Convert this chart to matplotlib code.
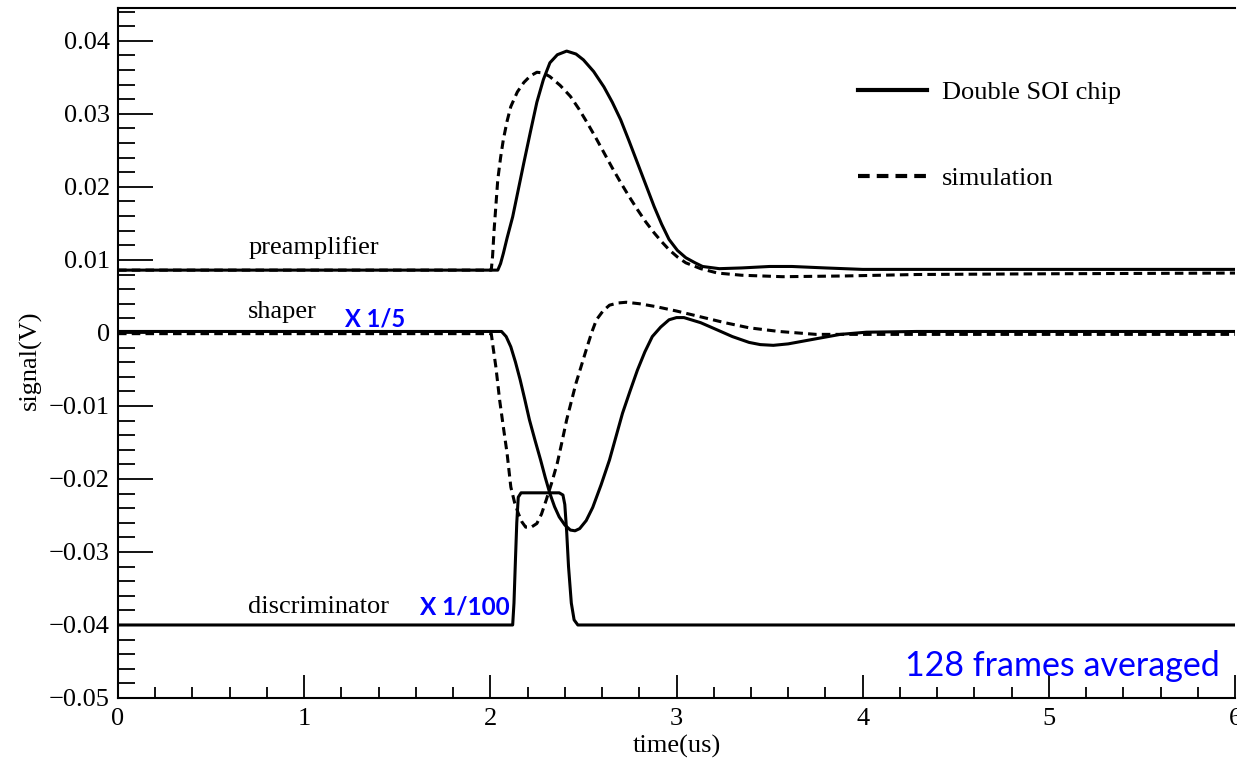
import matplotlib
matplotlib.use("Agg")
import matplotlib.pyplot as plt
from matplotlib.ticker import FixedLocator, MultipleLocator

# ---------------- waveform data (time in us, signal in V) ----------------
pre_chip_t = [0.0, 2.04, 2.055, 2.07, 2.09, 2.12, 2.15, 2.18, 2.215, 2.25, 2.285, 2.32,
              2.36, 2.41, 2.46, 2.50, 2.555, 2.61, 2.655, 2.70, 2.745, 2.79, 2.835,
              2.88, 2.92, 2.96, 3.005, 3.05, 3.10, 3.14, 3.23, 3.35, 3.50, 3.62, 3.80,
              4.00, 6.0]
pre_chip_v = [0.0086, 0.0086, 0.0095, 0.0109, 0.0130, 0.0159, 0.0196, 0.0233, 0.0275,
              0.0316, 0.0347, 0.0370, 0.0381, 0.0386, 0.0382, 0.0374, 0.0358, 0.0337,
              0.0316, 0.0292, 0.0263, 0.0233, 0.0203, 0.0173, 0.0149, 0.0128, 0.0113,
              0.0103, 0.0096, 0.0091, 0.0088, 0.0089, 0.0091, 0.0091, 0.0089, 0.0087,
              0.0087]

pre_sim_t = [0.0, 2.005, 2.012, 2.02, 2.03, 2.04, 2.055, 2.07, 2.09, 2.11, 2.145, 2.18,
             2.215, 2.25, 2.285, 2.32, 2.375, 2.43, 2.475, 2.52, 2.565, 2.61, 2.655,
             2.70, 2.745, 2.79, 2.835, 2.88, 2.92, 2.96, 3.005, 3.05, 3.13, 3.22, 3.35,
             3.57, 3.90, 4.29, 5.0, 6.0]
pre_sim_v = [0.0086, 0.0086, 0.0105, 0.0140, 0.0175, 0.0210, 0.0240, 0.0265, 0.0290,
             0.0310, 0.0330, 0.0343, 0.0352, 0.0357, 0.0356, 0.0351, 0.0339, 0.0324,
             0.0307, 0.0288, 0.0268, 0.0247, 0.0226, 0.0206, 0.0187, 0.0169, 0.0152,
             0.0137, 0.0125, 0.0114, 0.0104, 0.0096, 0.0088, 0.0082, 0.0079, 0.0077,
             0.0078, 0.0080, 0.0081, 0.0082]

shp_chip_t = [0.0, 2.06, 2.085, 2.11, 2.135, 2.16, 2.185, 2.21, 2.24, 2.27, 2.295, 2.32,
              2.345, 2.37, 2.40, 2.43, 2.455, 2.48, 2.515, 2.55, 2.595, 2.64, 2.675,
              2.71, 2.75, 2.79, 2.83, 2.87, 2.915, 2.96, 3.00, 3.04, 3.13, 3.22, 3.30,
              3.39, 3.45, 3.52, 3.60, 3.75, 3.88, 4.02, 4.29, 6.0]
shp_chip_v = [0.0002, 0.0002, -0.0005, -0.0019, -0.0040, -0.0064, -0.0091, -0.0119,
              -0.0147, -0.0174, -0.0198, -0.0220, -0.0238, -0.0252, -0.0263, -0.0270,
              -0.0271, -0.0268, -0.0257, -0.0239, -0.0208, -0.0174, -0.0142, -0.0110,
              -0.0080, -0.0051, -0.0026, -0.0005, 0.0008, 0.0018, 0.0021, 0.0021,
              0.0014, 0.0004, -0.0005, -0.0013, -0.0016, -0.0017, -0.0015, -0.0008,
              -0.0002, 0.0001, 0.0002, 0.0002]

shp_sim_t = [0.0, 2.005, 2.015, 2.03, 2.05, 2.07, 2.09, 2.11, 2.13, 2.15, 2.17, 2.19,
             2.22, 2.25, 2.275, 2.30, 2.33, 2.36, 2.385, 2.41, 2.435, 2.46, 2.49, 2.52,
             2.545, 2.57, 2.605, 2.64, 2.685, 2.73, 2.80, 2.89, 3.00, 3.13, 3.26, 3.39,
             3.55, 3.75, 4.00, 6.0]
shp_sim_v = [-0.0001, -0.0001, -0.0020, -0.0047, -0.0092, -0.0129, -0.0165, -0.0211,
             -0.0232, -0.0247, -0.0259, -0.0266, -0.0266, -0.0261, -0.0248, -0.0229,
             -0.0205, -0.0178, -0.0149, -0.0119, -0.0094, -0.0069, -0.0044, -0.0019,
             0.0001, 0.0018, 0.0030, 0.0038, 0.0041, 0.0042, 0.0040, 0.0036, 0.0030,
             0.0022, 0.0014, 0.0007, 0.0002, -0.0002, -0.0002, -0.0002]

disc_t = [0.0, 2.12, 2.127, 2.135, 2.142, 2.15, 2.165, 2.37, 2.39, 2.40, 2.41, 2.42,
          2.435, 2.45, 2.47, 6.0]
disc_v = [-0.0400, -0.0400, -0.0370, -0.0310, -0.0260, -0.0225, -0.0219, -0.0219,
          -0.0222, -0.0235, -0.0272, -0.0320, -0.0370, -0.0393, -0.0400, -0.0400]

xtick_values = [0, 1, 2, 3, 4, 5, 6]
xtick_labels = ["0", "1", "2", "3", "4", "5", "6"]
ytick_values = [-0.05, -0.04, -0.03, -0.02, -0.01, 0.0, 0.01, 0.02, 0.03, 0.04]
ytick_labels = ["\u22120.05", "\u22120.04", "\u22120.03", "\u22120.02", "\u22120.01",
                "0", "0.01", "0.02", "0.03", "0.04"]

series_labels = ["Double SOI chip", "simulation"]

# ---------------- figure ----------------
SERIF = "Liberation Serif"
SANS = "Lato"
BLUE = "#0000FF"
FS = 19

fig = plt.figure(figsize=(12.37, 7.60), dpi=100)
W, H = 1237, 760
ax = fig.add_axes([118 / W, 1 - 698 / H, (1235 - 118) / W, (698 - 8) / H])

lw = 2.2
dash = (0, (2.8, 1.7))
l_chip, = ax.plot(pre_chip_t, pre_chip_v, color="black", lw=lw, solid_joinstyle="round")
l_sim, = ax.plot(pre_sim_t, pre_sim_v, color="black", lw=lw, linestyle=dash)
ax.plot(shp_chip_t, shp_chip_v, color="black", lw=lw, solid_joinstyle="round")
ax.plot(shp_sim_t, shp_sim_v, color="black", lw=lw, linestyle=dash)
ax.plot(disc_t, disc_v, color="black", lw=lw, solid_joinstyle="round")

ax.set_xlim(0, 6)
ax.set_ylim(-0.05, 0.0445)

# axes frame and ticks
for side in ("left", "bottom", "top"):
    ax.spines[side].set_linewidth(1.5)
ax.spines["right"].set_visible(False)

ax.xaxis.set_major_locator(FixedLocator(xtick_values))
ax.set_xticklabels(xtick_labels)
ax.xaxis.set_minor_locator(MultipleLocator(0.2))
ax.yaxis.set_major_locator(FixedLocator(ytick_values))
ax.set_yticklabels(ytick_labels)
ax.yaxis.set_minor_locator(MultipleLocator(0.002))

ax.tick_params(axis="x", which="major", direction="in", length=16.5, width=1.3,
               pad=7, labelsize=FS)
ax.tick_params(axis="x", which="minor", direction="in", length=8, width=1.3)
ax.tick_params(axis="y", which="major", direction="in", length=25, width=1.3,
               pad=6, labelsize=FS)
ax.tick_params(axis="y", which="minor", direction="in", length=12.5, width=1.3)
ax.tick_params(top=False, right=False, which="both")
for lab in ax.get_xticklabels() + ax.get_yticklabels():
    lab.set_fontfamily(SERIF)

ax.set_xlabel("time(us)", fontsize=FS, family=SERIF)
ax.set_ylabel("signal(V)", fontsize=FS, family=SERIF)
ax.xaxis.set_label_coords(0.5, -0.054)
ax.yaxis.set_label_coords(-0.068, 0.49)

# curve names and scale factors
ax.text(0.70, 0.0108, "preamplifier", fontsize=FS, family=SERIF)
ax.text(0.70, 0.0020, "shaper", fontsize=FS, family=SERIF)
ax.text(0.70, -0.0384, "discriminator", fontsize=FS, family=SERIF)
ax.text(1.22, 0.0009, "X 1/5", fontsize=17, family=SANS, weight="bold", color=BLUE)
ax.text(1.62, -0.0385, "X 1/100", fontsize=17.5, family=SANS, weight="bold", color=BLUE)
ax.text(5.92, -0.0456, "128 frames averaged", fontsize=24.5, family=SANS, color=BLUE,
        ha="right", va="center")

leg = ax.legend([l_chip, l_sim], series_labels, loc="upper left",
                bbox_to_anchor=(858 / W, 1 - 81 / H), bbox_transform=fig.transFigure,
                frameon=False, borderpad=0, borderaxespad=0, handlelength=2.6,
                handletextpad=0.57, labelspacing=2.37,
                prop={"family": SERIF, "size": FS})
for ln in leg.get_lines():
    ln.set_linewidth(3.0)

fig.savefig("out.png", dpi=100)
